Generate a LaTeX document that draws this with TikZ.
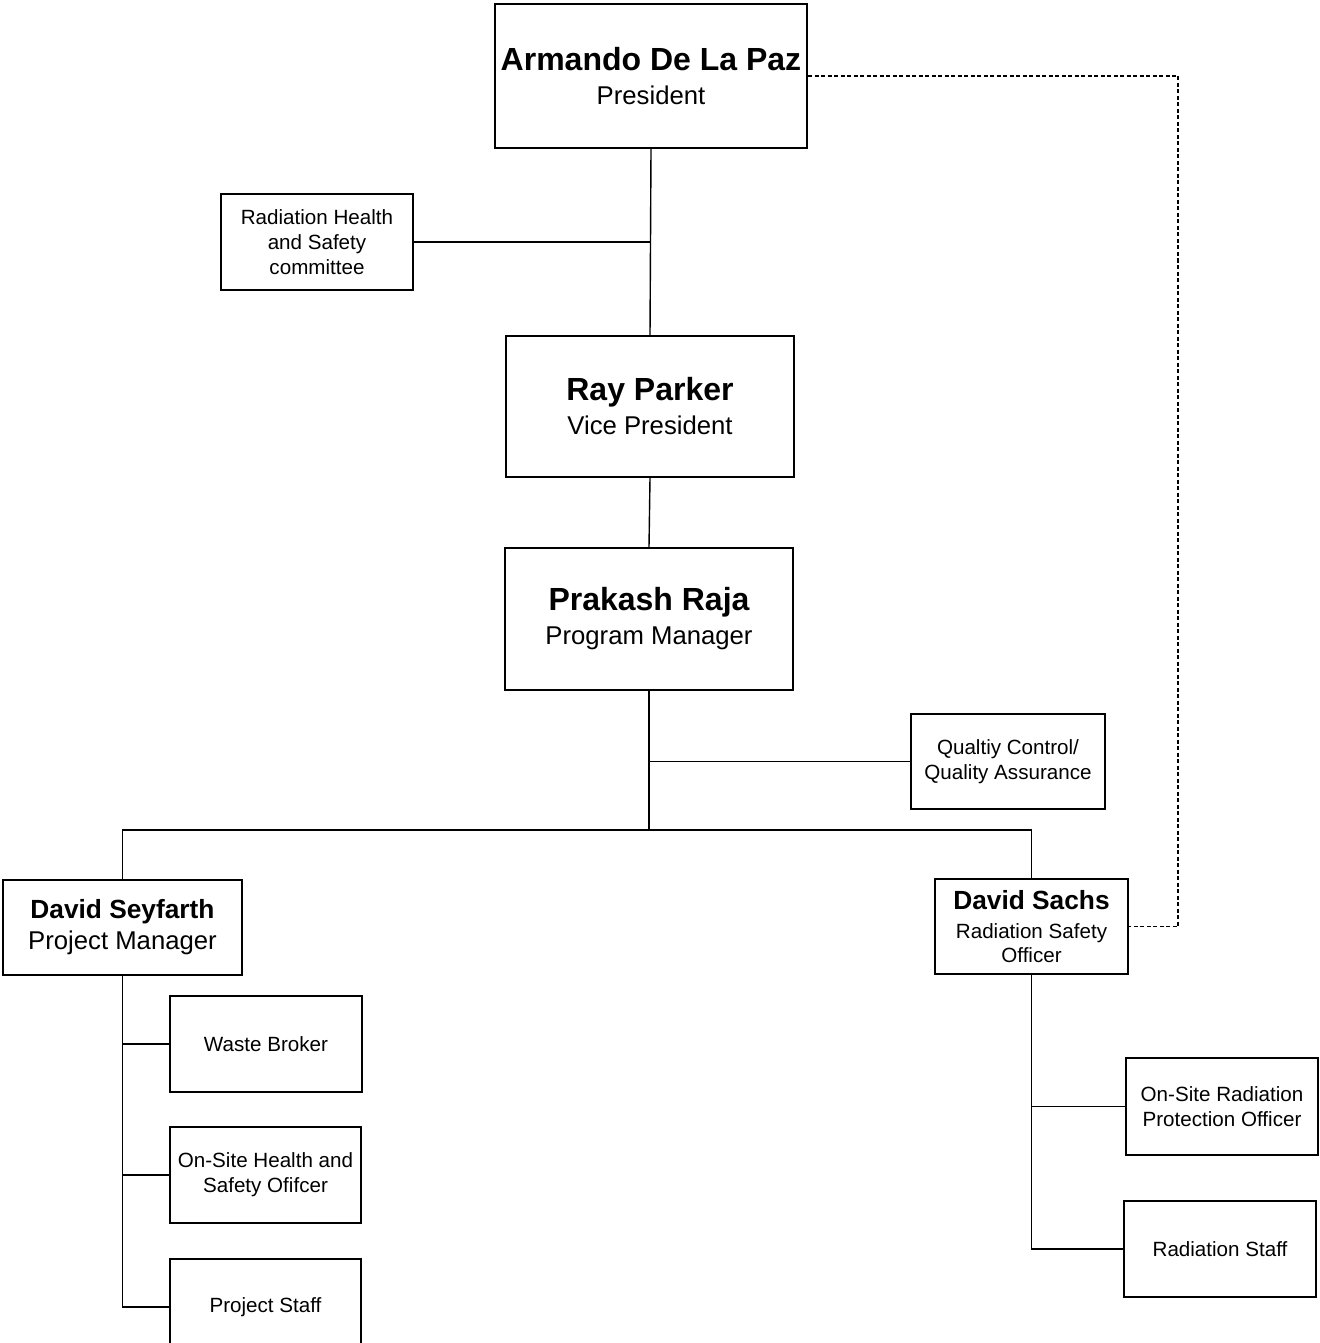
\documentclass[tikz,border=0pt]{standalone}
\usepackage{fontspec}
\setmainfont{Liberation Sans}
\usetikzlibrary{positioning, calc}
\newcommand{\bigname}{\fontsize{32}{34}\selectfont\bfseries}
\newcommand{\bigrole}{\fontsize{25.7}{34}\selectfont}
\newcommand{\midname}{\fontsize{26.3}{30}\selectfont\bfseries}
\newcommand{\midrole}{\fontsize{20.6}{24}\selectfont}
\newcommand{\smalltxt}{\fontsize{20.6}{25}\selectfont}

\begin{document}
\begin{tikzpicture}[
  x=1pt, y=-1pt,
  box/.style={draw, line width=2pt, align=center, inner sep=0pt},
  bigbox/.style={box, minimum width=288pt, minimum height=142pt, font=\bigrole},
  midbox/.style={box, minimum height=95pt},
  sbox/.style={box, minimum width=192pt, minimum height=96pt, font=\smalltxt},
  link/.style={line width=1.4pt},
  dlink/.style={line width=1.4pt, dash pattern=on 4pt off 2.5pt}
]
\useasboundingbox (0,0) rectangle (1319,1343);
\clip (0,0) rectangle (1319,1343);

% --- Main spine ---
\node[bigbox, minimum width=312pt, minimum height=144pt] (pres) at (651,76)
{{\bigname Armando De La Paz}\\President};

\node[bigbox, minimum height=141pt] (vp) at (650,406.5)
{{\bigname Ray Parker}\\Vice President};

\node[bigbox] (pm) at (649,619)
{{\bigname Prakash Raja}\\Program Manager};

% --- Staff boxes off the spine ---
\node[sbox] (cmte) at (317,242) {Radiation Health\\and Safety\\committee};
\node[sbox, minimum width=194pt, minimum height=95pt] (qc) at (1008,761.5)
{Qualtiy Control/\\Quality Assurance};

% --- Second level ---
\node[midbox, minimum width=239pt, font=\fontsize{25.7}{31}\selectfont] (seyf) at (122.5,927.5)
{{\midname David Seyfarth}\\Project Manager};

\node[midbox, minimum width=193pt, font=\midrole] (sachs) at (1031.5,926.5)
{{\midname David Sachs}\\[5pt]Radiation Safety\\Officer};

% --- Third level ---
\node[sbox] (waste) at (266,1044) {Waste Broker};
\node[sbox, minimum width=191pt] (hs) at (265.5,1175) {On-Site Health and\\Safety Ofifcer};
\node[sbox, minimum width=191pt] (pstaff) at (265.5,1307) {Project Staff};

\node[sbox, minimum height=97pt] (rpo) at (1222,1106.5) {On-Site Radiation\\Protection Officer};
\node[sbox] (rstaff) at (1220,1249) {Radiation Staff};

% --- Connectors ---
\coordinate (split) at (649,830);
\coordinate (dcorner) at (1178,76);

\draw[link] (pres.south) -- (vp.north);
\draw[link] (cmte.east) -- (cmte.east -| pres.south);
\draw[link] (vp.south) -- (pm.north);
\draw[link] (pm.south) -- (split);
\draw[link] (qc.west) -- (qc.west -| pm.south);
\draw[link] (seyf.north) |- (split) -| (sachs.north);

\draw[link] (seyf.south) |- (pstaff.west);
\draw[link] (waste.west) -- (waste.west -| seyf.south);
\draw[link] (hs.west) -- (hs.west -| seyf.south);

\draw[link] (sachs.south) |- (rstaff.west);
\draw[link] (rpo.west) -- (rpo.west -| sachs.south);

% dashed reporting line
\draw[dlink] (pres.east) -- (dcorner) |- (sachs.east);

\end{tikzpicture}
\end{document}
